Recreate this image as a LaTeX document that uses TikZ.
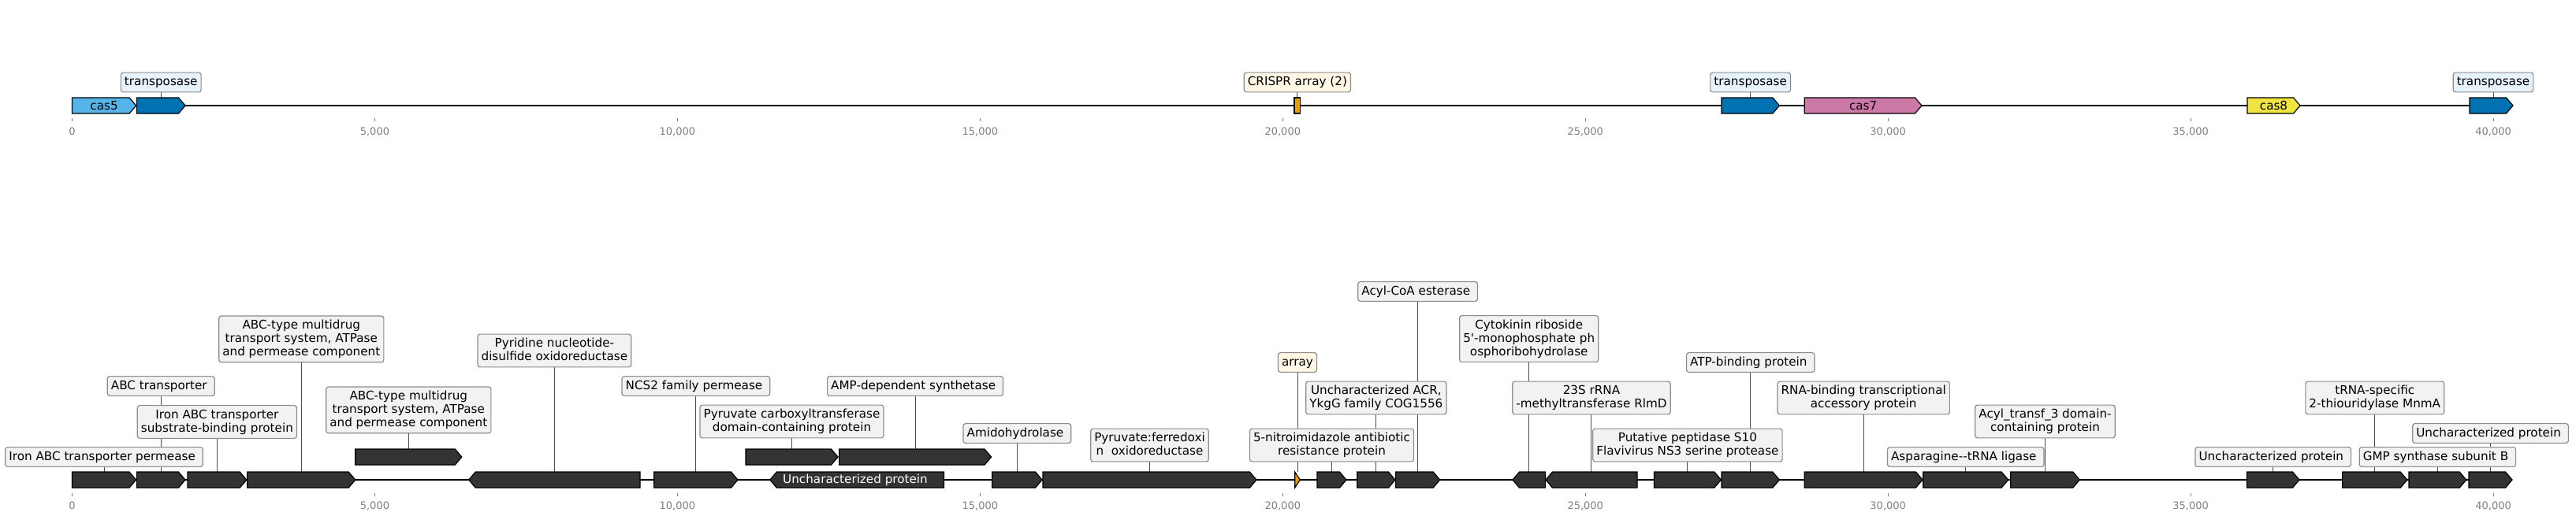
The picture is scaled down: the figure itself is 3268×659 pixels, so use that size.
\documentclass[tikz,border=0pt]{standalone}
\usepackage{fontspec}
\setmainfont{DejaVu Sans}
\usetikzlibrary{calc}
\definecolor{gdark}{HTML}{333333}
\definecolor{boxfill}{HTML}{F2F2F2}
\definecolor{boxedge}{HTML}{8C8C8C}
\definecolor{connc}{HTML}{4D4D4D}
\definecolor{tickc}{HTML}{808080}
\definecolor{cfive}{HTML}{56B4E9}
\definecolor{tpblue}{HTML}{0072B2}
\definecolor{cseven}{HTML}{CC79A7}
\definecolor{ceight}{HTML}{F0E442}
\definecolor{crorange}{HTML}{E69F00}
\definecolor{tpbox}{HTML}{E6F3FA}
\definecolor{crbox}{HTML}{FFF7E6}
\pgfdeclarelayer{back}
\pgfsetlayers{back,main}
\newcommand\SL{\rule[-2.2pt]{0pt}{8.5pt}}
\newcommand\trsp{\kern0.318em}
% forward gene: name, y-centre, x1, x2, options
\newcommand\gfw[5]{%
  \draw[gene,#5] (#3,#2-10) -- ({max(#3,#4-8.5)},#2-10) -- (#4,#2)
    -- ({max(#3,#4-8.5)},#2+10) -- (#3,#2+10) -- cycle;
  \coordinate (#1) at ({(#3+#4)/2},#2-10);
  \coordinate (#1c) at ({(#3+#4)/2},#2);}
% reverse gene
\newcommand\grv[5]{%
  \draw[gene,#5] (#4,#2-10) -- ({min(#4,#3+8.5)},#2-10) -- (#3,#2)
    -- ({min(#4,#3+8.5)},#2+10) -- (#4,#2+10) -- cycle;
  \coordinate (#1) at ({(#3+#4)/2},#2-10);
  \coordinate (#1c) at ({(#3+#4)/2},#2);}
\begin{document}
\begin{tikzpicture}[x=0.5pt,y=-0.5pt,
  gene/.style={draw=black,line width=0.6pt,line join=miter,fill=gdark},
  lab/.style={draw=boxedge,fill=boxfill,rounded corners=1.5pt,line width=0.6pt,
    inner xsep=2.3pt,inner ysep=1.93pt,align=center,
    font=\fontsize{7.6pt}{8.5pt}\selectfont},
  conn/.style={draw=connc,line width=0.5pt},
  track/.style={draw=black,line width=1pt},
  tickm/.style={draw=tickc,line width=0.5pt},
  ticklab/.style={text=tickc,font=\fontsize{6.5pt}{7.8pt}\selectfont,inner sep=0pt},
  intext/.style={font=\fontsize{7.6pt}{8.5pt}\selectfont,inner sep=0pt}]
\useasboundingbox (0,0) rectangle (3268,659);

% ---------- axes ----------
\foreach \i/\t in {0/0,1/{5,000},2/{10,000},3/{15,000},4/{20,000},5/{25,000},6/{30,000},7/{35,000},8/{40,000}}{
  \pgfmathsetmacro\xx{91.5+383.95*\i}
  \draw[tickm] (\xx,150) -- (\xx,154);
  \node[ticklab] (tt\i) at (\xx,167) {\t};
  \draw[tickm] (\xx,626) -- (\xx,630);
  \node[ticklab] (bt\i) at (\xx,642) {\t};
}

% ---------- top track ----------
\coordinate (ts) at (91.5,134);
\coordinate (te) at (3188,134);
\draw[track] (ts) -- (te);
\gfw{t1}{134}{91.5}{172.6}{fill=cfive}
\gfw{t2}{134}{173.5}{235}{fill=tpblue}
\draw[gene,fill=crorange] (1642,124) rectangle (1649.7,144);
\coordinate (tcr) at (1645.9,124);
\gfw{t19}{134}{2184}{2257.4}{fill=tpblue}
\gfw{t20}{134}{2289.3}{2438}{fill=cseven}
\gfw{t23}{134}{2851}{2918}{fill=ceight}
\gfw{t26}{134}{3133}{3188}{fill=tpblue}
\node[intext] (ncas5) at (t1c) {cas5};
\node[intext] (ncas7) at (t20c) {cas7};
\node[intext] (ncas8) at (t23c) {cas8};

\node[lab,fill=tpbox] (lt2) at (t2 |- 0,104.5) {\SL transposase};
\node[lab,fill=crbox] (ltcr) at (tcr |- 0,104.5) {\SL CRISPR array (2)};
\node[lab,fill=tpbox] (lt19) at (t19 |- 0,104.5) {\SL transposase};
\node[lab,fill=tpbox] (lt26) at (3163,104.5) {\SL transposase};

% ---------- bottom track ----------
\coordinate (bs) at (91.5,609);
\coordinate (be) at (3187,609);
\draw[track] (bs) -- (be);
\gfw{g1}{609}{91.5}{172.6}{}
\gfw{g2}{609}{173.5}{235}{}
\gfw{g3}{609}{238}{312.8}{}
\gfw{g4}{609}{313.8}{450.8}{}
\gfw{g5}{580}{450.8}{585.8}{}
\grv{g6}{609}{594.7}{812}{}
\gfw{g7}{609}{829.8}{936}{}
\grv{g8}{609}{976.8}{1197.5}{}
\gfw{g9}{580}{946}{1063}{}
\gfw{g10}{580}{1064.6}{1257.6}{}
\gfw{g11}{609}{1258.7}{1322}{}
\gfw{g12}{609}{1323}{1594}{}
\gfw{ga}{609}{1642.7}{1649.3}{fill=crorange}
\gfw{g13}{609}{1671}{1708}{}
\gfw{g14}{609}{1721.7}{1770}{}
\gfw{g15}{609}{1770.6}{1826.7}{}
\grv{g16}{609}{1919}{1960.4}{}
\grv{g17}{609}{1960.9}{2077}{}
\gfw{g18}{609}{2098.4}{2183.4}{}
\gfw{g19}{609}{2184}{2257.4}{}
\gfw{g20}{609}{2289.3}{2439}{}
\gfw{g21}{609}{2439.7}{2547.7}{}
\gfw{g22}{609}{2550.7}{2638.3}{}
\gfw{g23}{609}{2850.4}{2917}{}
\gfw{g24}{609}{2971.7}{3053.8}{}
\gfw{g25}{609}{3056}{3128.8}{}
\gfw{g26}{609}{3132}{3187}{}
\node[intext,text=white] (ng8) at (1085,609) {Uncharacterized protein};

\node[lab] (l1) at (g1 |- 0,580) {\SL Iron ABC transporter permease\trsp};
\node[lab] (l2) at (g2 |- 0,490) {\SL ABC transporter\trsp};
\node[lab] (l3) at (g3 |- 0,535.5) {\SL Iron ABC transporter\\\SL substrate-binding protein};
\node[lab] (l4) at (g4 |- 0,430.4) {\SL ABC-type multidrug\\\SL transport system, ATPase\\\SL and permease component};
\node[lab] (l5) at (g5 |- 0,520.4) {\SL ABC-type multidrug\\\SL transport system, ATPase\\\SL and permease component};
\node[lab] (l6) at (g6 |- 0,445) {\SL Pyridine nucleotide-\\\SL disulfide oxidoreductase};
\node[lab] (l7) at (g7 |- 0,490) {\SL NCS2 family permease\trsp};
\node[lab] (l9) at (g9 |- 0,535) {\SL Pyruvate carboxyltransferase\\\SL domain-containing protein};
\node[lab] (l10) at (g10 |- 0,490) {\SL AMP-dependent synthetase\trsp};
\node[lab] (l11) at (g11 |- 0,550) {\SL Amidohydrolase\trsp};
\node[lab] (l12) at (g12 |- 0,565) {\SL Pyruvate:ferredoxi\\\SL n\ \ oxidoreductase};
\node[lab,fill=crbox] (la) at (ga |- 0,460) {\SL array};
\node[lab] (l13) at (g13 |- 0,565) {\SL 5-nitroimidazole antibiotic\\\SL resistance protein};
\node[lab] (l14) at (g14 |- 0,505) {\SL Uncharacterized ACR,\\\SL YkgG family COG1556};
\node[lab] (l15) at (g15 |- 0,370) {\SL Acyl-CoA esterase\trsp};
\node[lab] (l16) at (g16 |- 0,430) {\SL Cytokinin riboside\\\SL 5\textquotesingle-monophosphate ph\\\SL osphoribohydrolase};
\node[lab] (l17) at (g17 |- 0,505) {\SL 23S rRNA\\\SL -methyltransferase RlmD};
\node[lab] (l18) at (g18 |- 0,565) {\SL Putative peptidase S10\\\SL Flavivirus NS3 serine protease};
\node[lab] (l19) at (g19 |- 0,460) {\SL ATP-binding protein\trsp};
\node[lab] (l20) at (g20 |- 0,505) {\SL RNA-binding transcriptional\\\SL accessory protein};
\node[lab] (l21) at (g21 |- 0,580) {\SL Asparagine-{}-tRNA ligase\trsp};
\node[lab] (l22) at (g22 |- 0,535) {\SL Acyl\_transf\_3 domain-\\\SL containing protein};
\node[lab] (l23) at (g23 |- 0,580) {\SL Uncharacterized protein\trsp};
\node[lab] (l24) at (g24 |- 0,505) {\SL tRNA-specific\\\SL 2-thiouridylase MnmA};
\node[lab] (l25) at (g25 |- 0,580) {\SL GMP synthase subunit B\trsp};
\node[lab] (l26) at (g26 |- 0,550) {\SL Uncharacterized protein\trsp};

% ---------- connectors (behind boxes) ----------
\begin{pgfonlayer}{back}
  \draw[conn] (lt2.south) -- (t2);
  \draw[conn] (ltcr.south) -- (tcr);
  \draw[conn] (lt19.south) -- (t19);
  \draw[conn] (lt26.south) -- (lt26.south |- t26);
  \foreach \n in {1,2,3,4,5,6,7,9,10,11,12,13,14,15,16,17,18,19,20,21,22,23,24,25,26}{
    \draw[conn] (l\n.south) -- (g\n);
  }
  \draw[conn] (la.south) -- (ga);
\end{pgfonlayer}
\end{tikzpicture}
\end{document}
